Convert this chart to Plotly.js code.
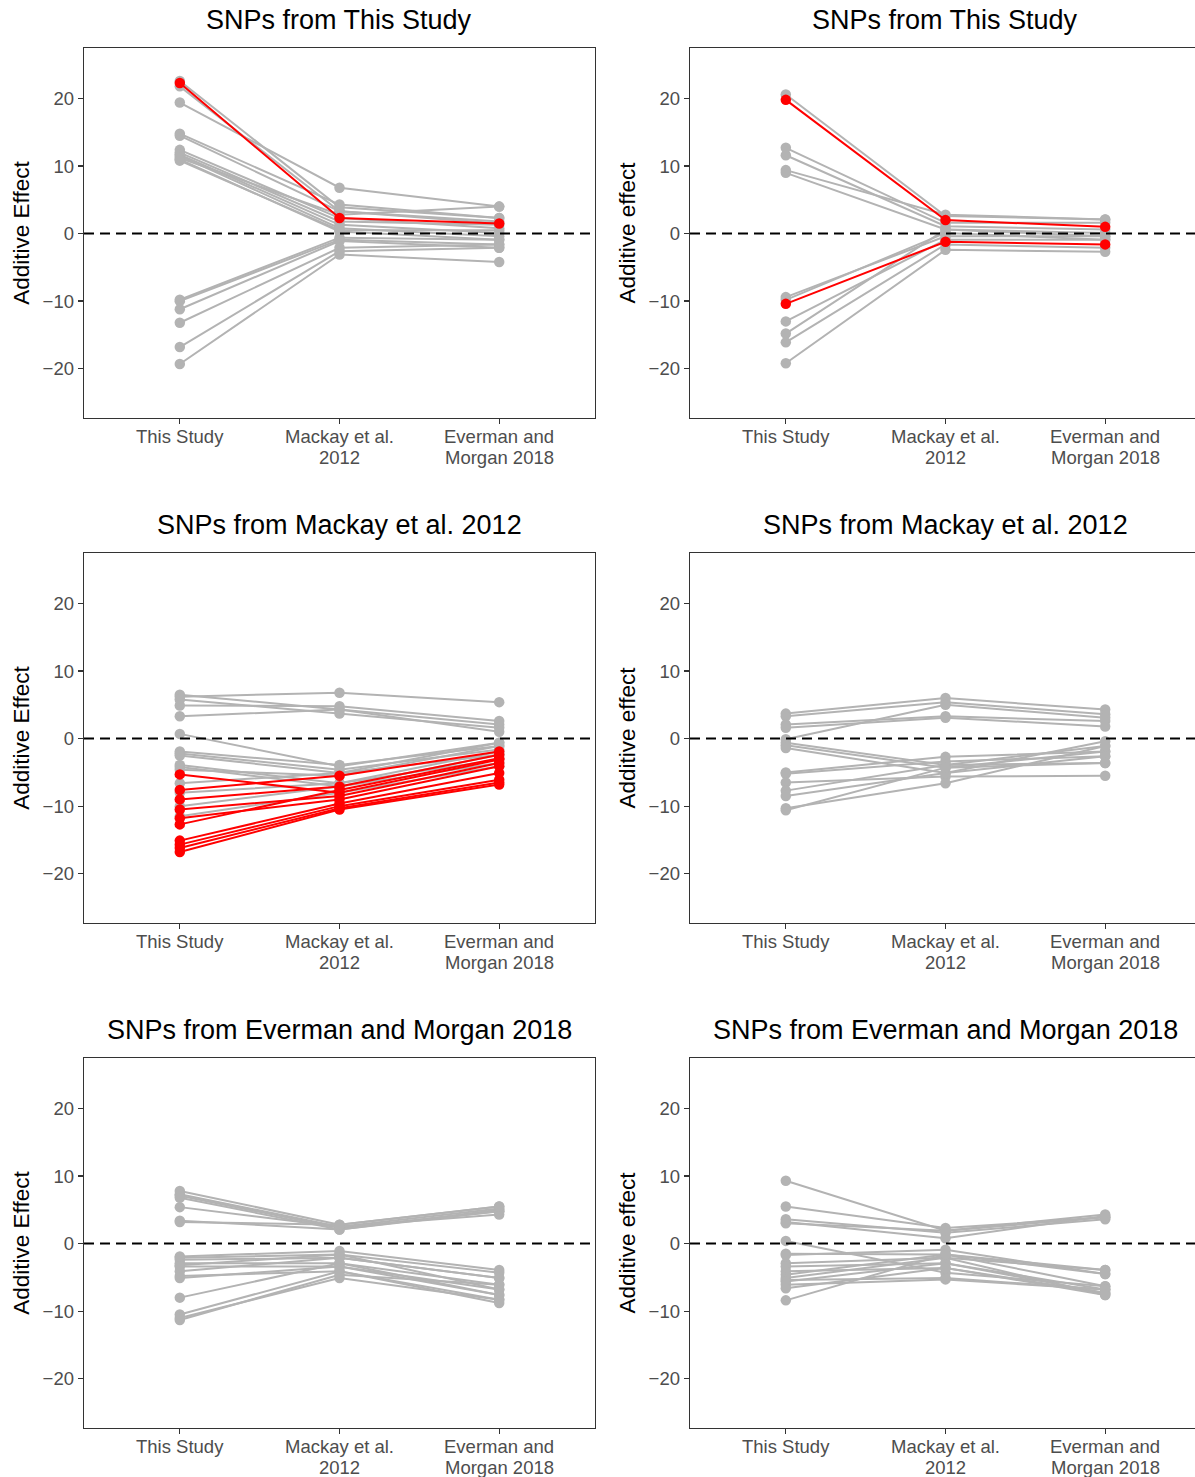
<!DOCTYPE html>
<html>
<head>
<meta charset="utf-8">
<script src="https://cdn.plot.ly/plotly-3.0.1.min.js"></script>
<style>
html,body{margin:0;padding:0;overflow:hidden;background:#fff;}
#chart{width:1215px;height:1477px;}
</style>
</head>
<body>
<div id="chart"></div>
<script>
// Categories / tick labels (each label split into its two printed lines)
const categories = ["This Study", "Mackay et al. 2012", "Everman and Morgan 2018"];
const tickLine1 = ["This Study", "Mackay et al.", "Everman and"];
const tickLine2 = ["", "2012", "Morgan 2018"];
const panelTitles = ["SNPs from This Study", "SNPs from This Study",
  "SNPs from Mackay et al. 2012", "SNPs from Mackay et al. 2012",
  "SNPs from Everman and Morgan 2018", "SNPs from Everman and Morgan 2018"];
const yTitles = ["Additive Effect", "Additive effect", "Additive Effect", "Additive effect", "Additive Effect", "Additive effect"];
const yTickVals = [-20, -10, 0, 10, 20];

// Panel 1 (top left)
const p1_this    = [22.3, 22.6, 21.8, 19.4, 14.8, 14.5, 12.4, 12.0, 11.7, 11.5, 11.2, 11.0, 10.8, -9.8, -10.0, -11.2, -13.2, -16.8, -19.3];
const p1_mackay  = [2.3, 3.9, 3.3, 6.8, 4.3, 3.3, 2.3, 1.8, 1.3, 0.8, 2.8, 0.3, 0.5, -0.6, -0.9, -1.1, -2.1, -2.6, -3.1];
const p1_everman = [1.5, 2.3, 1.8, 4.0, 2.3, 1.5, 0.8, 1.3, 0.1, -0.4, 4.0, -0.9, 0.5, -0.9, -1.6, -2.1, -1.6, -2.1, -4.2];
const p1_red     = [1, 0, 0, 0, 0, 0, 0, 0, 0, 0, 0, 0, 0, 0, 0, 0, 0, 0, 0];

// Panel 2 (top right)
const p2_this    = [19.8, -10.4, 20.6, 12.7, 11.6, 9.4, 9.0, -9.4, -9.8, -13.0, -14.8, -16.1, -19.2];
const p2_mackay  = [2.0, -1.2, 2.6, 1.6, 1.1, 2.8, 0.6, -0.4, 0.1, -0.9, 0.6, -1.6, -2.4];
const p2_everman = [1.0, -1.6, 2.1, 1.6, 0.6, 2.1, 0.1, -0.4, -0.9, -0.9, -0.4, -2.1, -2.7];
const p2_red     = [1, 1, 0, 0, 0, 0, 0, 0, 0, 0, 0, 0, 0];

// Panel 3 (middle left)
const p3_this    = [6.5, 6.2, 5.8, 4.9, 3.3, 0.7, -1.9, -2.2, -2.5, -3.9, -4.2, -4.6, -6.6, -8.0, -10.0, -11.5,
                    -5.3, -7.6, -9.0, -10.5, -11.8, -12.7, -15.1, -15.7, -16.2, -16.8];
const p3_mackay  = [4.3, 6.8, 3.7, 4.8, 4.3, -4.1, -3.9, -4.6, -5.1, -6.6, -7.1, -5.5, -5.1, -6.6, -7.1, -8.0,
                    -8.0, -5.5, -7.1, -8.5, -9.0, -7.6, -9.6, -10.0, -10.3, -10.5];
const p3_everman = [2.1, 5.4, 1.6, 2.6, 1.0, -0.6, -1.1, -1.6, -0.6, -1.9, -2.4, -1.1, -2.4, -3.1, -3.6, -4.1,
                    -3.1, -1.9, -2.4, -3.6, -4.1, -2.9, -5.1, -6.1, -6.5, -6.8];
const p3_red     = [0, 0, 0, 0, 0, 0, 0, 0, 0, 0, 0, 0, 0, 0, 0, 0, 1, 1, 1, 1, 1, 1, 1, 1, 1, 1];

// Panel 4 (middle right)
const p4_this    = [3.7, 3.3, 2.1, 1.6, -0.1, -0.6, -1.0, -1.4, -5.0, -5.2, -6.5, -7.7, -8.5, -10.3, -10.6];
const p4_mackay  = [6.0, 5.4, 3.3, 3.1, 5.0, -3.9, -4.3, -5.1, -2.7, -3.4, -5.6, -3.9, -5.1, -6.6, -4.3];
const p4_everman = [4.3, 3.6, 2.6, 1.8, 3.1, -1.1, -1.9, -0.4, -1.9, -2.6, -5.5, -3.6, -2.6, -1.1, -3.6];
const p4_red     = [0, 0, 0, 0, 0, 0, 0, 0, 0, 0, 0, 0, 0, 0, 0];

// Panel 5 (bottom left)
const p5_this    = [7.8, 7.3, 7.1, 6.8, 5.4, 3.4, 3.2, -1.9, -2.1, -2.4, -2.9, -3.2, -3.4, -4.1, -4.8, -5.1, -8.0, -10.5, -11.0, -11.3];
const p5_mackay  = [2.8, 2.5, 2.3, 2.1, 2.5, 2.1, 2.8, -1.1, -1.6, -2.1, -2.9, -1.6, -3.4, -2.1, -4.1, -3.4, -2.9, -4.1, -5.1, -4.6];
const p5_everman = [5.5, 5.2, 4.8, 5.0, 4.3, 4.8, 5.5, -3.9, -4.3, -5.1, -6.1, -6.8, -7.6, -5.1, -8.3, -6.8, -7.6, -8.8, -8.3, -6.1];
const p5_red     = [0, 0, 0, 0, 0, 0, 0, 0, 0, 0, 0, 0, 0, 0, 0, 0, 0, 0, 0, 0];

// Panel 6 (bottom right)
const p6_this    = [9.3, 5.5, 3.6, 3.2, 3.0, 0.4, -1.5, -1.7, -2.9, -3.4, -4.1, -4.6, -5.1, -5.4, -5.6, -6.1, -6.6, -8.4];
const p6_mackay  = [1.9, 2.3, 1.6, 0.8, 1.9, -4.3, -1.6, -0.9, -2.1, -2.9, -3.6, -1.6, -2.1, -5.1, -2.9, -5.3, -3.6, -1.6];
const p6_everman = [4.3, 3.9, 3.6, 4.1, 3.9, -6.3, -3.9, -4.5, -3.9, -6.8, -7.3, -6.3, -7.6, -6.8, -7.3, -6.8, -7.6, -4.5];
const p6_red     = [0, 0, 0, 0, 0, 0, 0, 0, 0, 0, 0, 0, 0, 0, 0, 0, 0, 0];

const panels = [
  [p1_this, p1_mackay, p1_everman, p1_red],
  [p2_this, p2_mackay, p2_everman, p2_red],
  [p3_this, p3_mackay, p3_everman, p3_red],
  [p4_this, p4_mackay, p4_everman, p4_red],
  [p5_this, p5_mackay, p5_everman, p5_red],
  [p6_this, p6_mackay, p6_everman, p6_red]
];

const W = 1215, H = 1477;
const colPx = [[84, 595], [690, 1201]];
const rowPx = [[48, 418], [553, 923], [1058, 1428]];
const GRAY = "#b3b3b3", RED = "#ff0000";
const FONT = "Liberation Sans, Arial, Helvetica, sans-serif";

const traces = [];
const layout = {
  width: W, height: H,
  margin: {l: 0, r: 0, t: 0, b: 0},
  paper_bgcolor: "#ffffff", plot_bgcolor: "#ffffff",
  showlegend: false,
  font: {family: FONT, size: 18.5, color: "#4d4d4d"},
  annotations: [], shapes: []
};

panels.forEach((p, k) => {
  const r = Math.floor(k / 2), c = k % 2;
  const ax = k === 0 ? "" : String(k + 1);
  const xa = "x" + ax, ya = "y" + ax;
  const [tv, mv, ev, red] = p;
  // gray first, red on top
  [0, 1].forEach(pass => {
    tv.forEach((v, i) => {
      if ((red[i] ? 1 : 0) !== pass) return;
      const col = red[i] ? RED : GRAY;
      traces.push({
        type: "scatter", mode: "lines+markers",
        x: categories, y: [tv[i], mv[i], ev[i]],
        xaxis: xa, yaxis: ya,
        line: {color: col, width: 2},
        marker: {color: col, size: 10.5},
        hoverinfo: "y"
      });
    });
  });
  const xd = [colPx[c][0] / W, colPx[c][1] / W];
  const yd = [(H - rowPx[r][1]) / H, (H - rowPx[r][0]) / H];
  layout["xaxis" + ax] = {
    domain: xd, anchor: ya, type: "category", range: [-0.6, 2.6],
    categoryorder: "array", categoryarray: categories,
    showticklabels: false,
    showgrid: false, zeroline: false,
    showline: true, mirror: true, linecolor: "#333333", linewidth: 1.3,
    ticks: "outside", ticklen: 5, tickwidth: 1.3, tickcolor: "#333333"
  };
  layout["yaxis" + ax] = {
    domain: yd, anchor: xa, range: [-27.3, 27.48],
    tickmode: "array", tickvals: yTickVals,
    showgrid: false, zeroline: false,
    showline: true, mirror: true, linecolor: "#333333", linewidth: 1.3,
    ticks: "outside", ticklen: 5, tickwidth: 1.3, tickcolor: "#333333",
    tickfont: {family: FONT, size: 18.5, color: "#4d4d4d"},
    title: {text: yTitles[k], font: {family: FONT, size: 22.5, color: "#000000"}, standoff: 6}
  };
  layout.shapes.push({
    type: "line", xref: xa + " domain", yref: ya,
    x0: 0, x1: 1, y0: 0, y1: 0,
    line: {color: "#000000", width: 2, dash: "10px,6px"}, layer: "above"
  });
  layout.annotations.push({
    text: panelTitles[k], xref: "paper", yref: "paper",
    x: (xd[0] + xd[1]) / 2, y: (H - (rowPx[r][0] - 28)) / H,
    xanchor: "center", yanchor: "middle", showarrow: false,
    font: {family: FONT, size: 27, color: "#000000"}
  });
  // two-line x tick labels
  categories.forEach((cat, j) => {
    [tickLine1[j], tickLine2[j]].forEach((txt, li) => {
      if (!txt) return;
      layout.annotations.push({
        text: txt, xref: xa, yref: "paper",
        x: cat, y: (H - (rowPx[r][1] + 18.2 + li * 20.8)) / H,
        xanchor: "center", yanchor: "middle", showarrow: false,
        font: {family: FONT, size: 18.5, color: "#4d4d4d"}
      });
    });
  });
});

Plotly.newPlot("chart", traces, layout, {displayModeBar: false, staticPlot: true});
</script>
</body>
</html>
